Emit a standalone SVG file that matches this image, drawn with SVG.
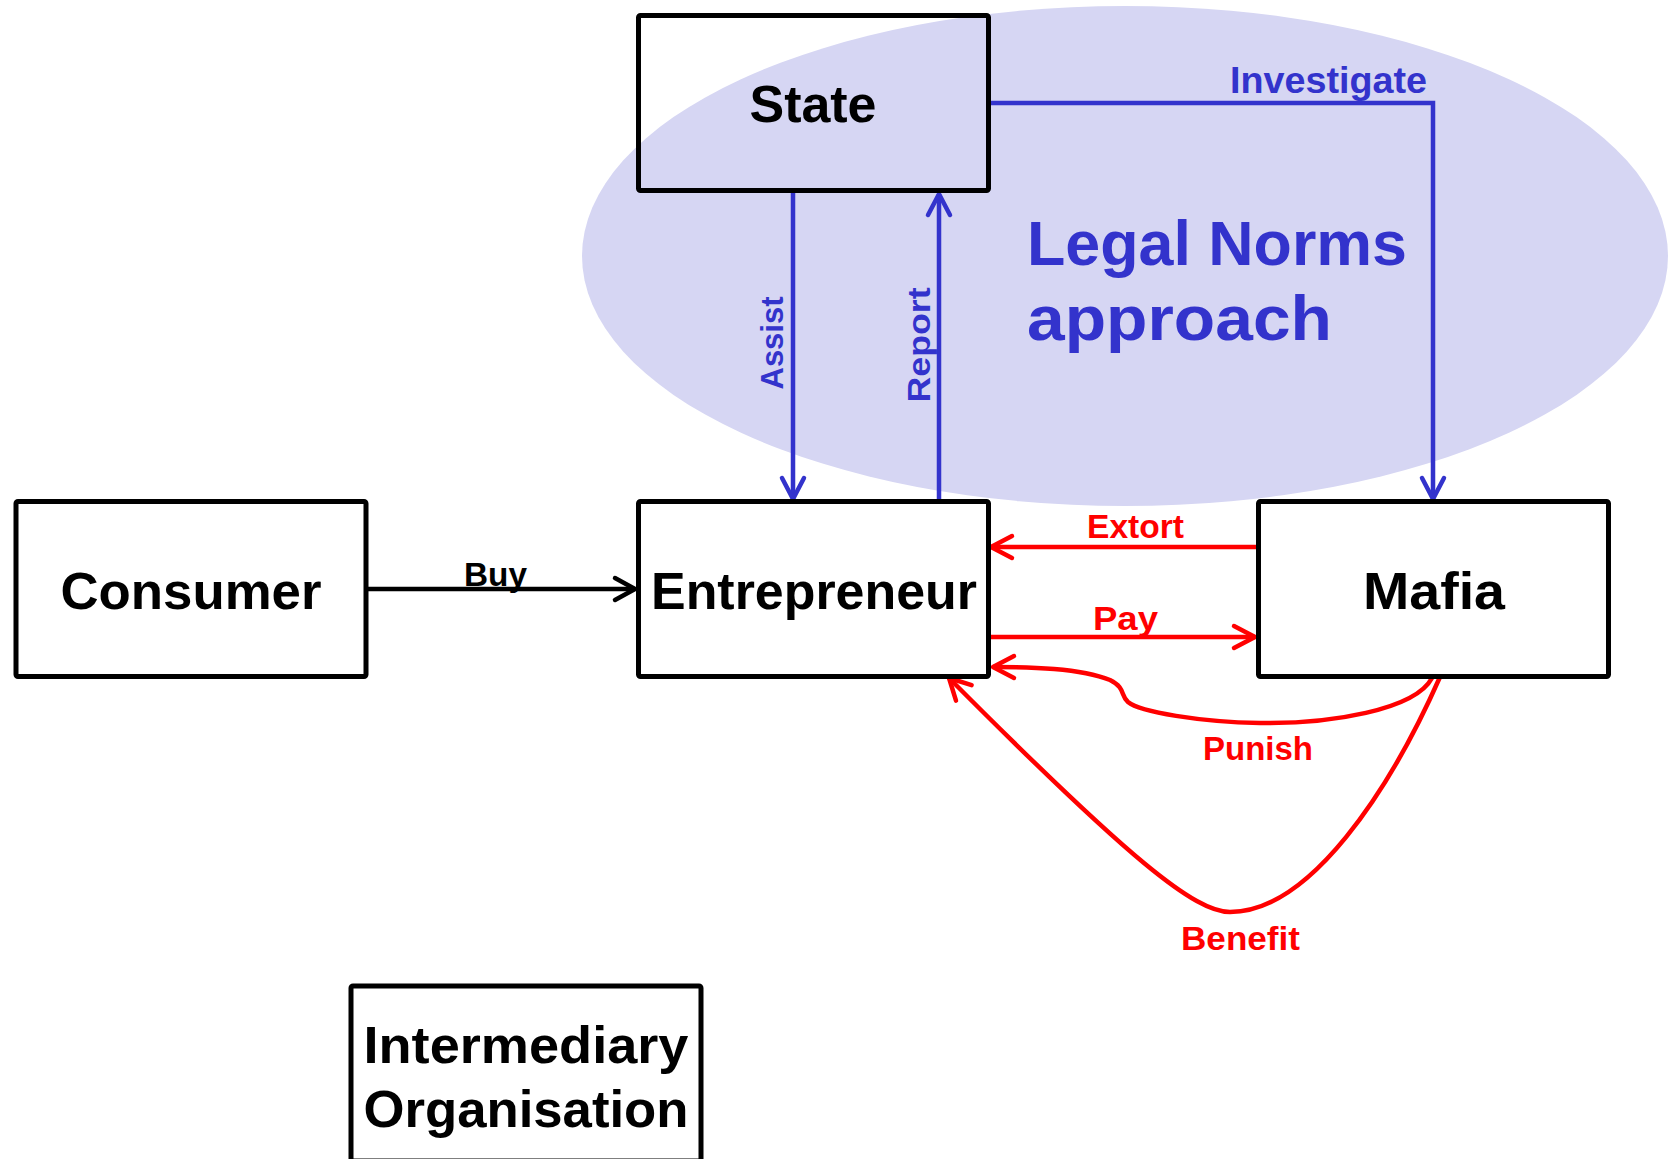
<svg xmlns="http://www.w3.org/2000/svg" width="1668" height="1159" viewBox="0 0 1668 1159">
<style>
.box{fill:none;stroke:#000;stroke-width:5;stroke-linejoin:round}
.nt{font-family:"Liberation Sans",Arial,sans-serif;font-weight:bold;font-size:52px;fill:#000;text-anchor:middle}
.bl{fill:none;stroke:#3333cc;stroke-width:4.5}
.rd{fill:none;stroke:#ff0000;stroke-width:4.5}
.bk{fill:none;stroke:#000;stroke-width:4.5}
.lb{font-family:"Liberation Sans",Arial,sans-serif;font-weight:bold;font-size:34px}
.lbb{fill:#3333cc}
.lbr{fill:#ff0000}
</style>
<defs>
<marker id="mb" markerUnits="userSpaceOnUse" viewBox="-26 -16 30 32" refX="0" refY="0" markerWidth="30" markerHeight="32" orient="auto" overflow="visible"><path d="M-21,-11 L0,0 L-21,11" fill="none" stroke="#3333cc" stroke-width="4.5" stroke-linecap="round" stroke-linejoin="round"/></marker>
<marker id="mr" markerUnits="userSpaceOnUse" viewBox="-26 -16 30 32" refX="0" refY="0" markerWidth="30" markerHeight="32" orient="auto" overflow="visible"><path d="M-21,-11 L0,0 L-21,11" fill="none" stroke="#ff0000" stroke-width="4.5" stroke-linecap="round" stroke-linejoin="round"/></marker>
<marker id="mk" markerUnits="userSpaceOnUse" viewBox="-26 -16 30 32" refX="0" refY="0" markerWidth="30" markerHeight="32" orient="auto" overflow="visible"><path d="M-20,-11 L0,0 L-20,11" fill="none" stroke="#000" stroke-width="4.5" stroke-linecap="round" stroke-linejoin="round"/></marker>
</defs>
<rect width="1668" height="1159" fill="#fff"/>
<g id="legal-norms-approach">
<ellipse cx="1125" cy="256" rx="543" ry="250" fill="#d6d6f3"/>
<text class="lb lbb" style="font-size:63px" x="1027" y="265" textLength="380" lengthAdjust="spacingAndGlyphs">Legal Norms</text>
<text class="lb lbb" style="font-size:63px" x="1027" y="340" textLength="305" lengthAdjust="spacingAndGlyphs">approach</text>
</g>
<g id="connectors">
<line class="bk" x1="366" y1="589" x2="635" y2="589" marker-end="url(#mk)"/>
<text class="lb" fill="#000" x="464" y="586" textLength="63" lengthAdjust="spacingAndGlyphs">Buy</text>
<line class="bl" x1="793" y1="193" x2="793" y2="499" marker-end="url(#mb)"/>
<text class="lb lbb" style="font-size:32px" transform="translate(783,343) rotate(-90)" text-anchor="middle" textLength="93" lengthAdjust="spacingAndGlyphs">Assist</text>
<line class="bl" x1="939" y1="499" x2="939" y2="194" marker-end="url(#mb)"/>
<text class="lb lbb" style="font-size:32px" transform="translate(930,345) rotate(-90)" text-anchor="middle" textLength="115" lengthAdjust="spacingAndGlyphs">Report</text>
<polyline class="bl" points="991,103 1433,103 1433,499" marker-end="url(#mb)" stroke-linejoin="miter"/>
<text class="lb lbb" style="font-size:37px" x="1230" y="93" textLength="197" lengthAdjust="spacingAndGlyphs">Investigate</text>
<line class="rd" x1="1256" y1="547" x2="991" y2="547" marker-end="url(#mr)"/>
<text class="lb lbr" x="1087" y="538" textLength="97" lengthAdjust="spacingAndGlyphs">Extort</text>
<line class="rd" x1="990" y1="637" x2="1255" y2="637" marker-end="url(#mr)"/>
<text class="lb lbr" x="1093" y="630" textLength="65" lengthAdjust="spacingAndGlyphs">Pay</text>
<path class="rd" d="M1432,678 C1415,710 1330,724 1260,723 C1200,722 1140,712 1128,702 C1120,695 1126,688 1110,680 C1080,668 1030,667 993,667" marker-end="url(#mr)"/>
<text class="lb lbr" x="1203" y="760" textLength="110" lengthAdjust="spacingAndGlyphs">Punish</text>
<path class="rd" d="M1440,677 C1390,790 1310,912 1230,912 C1195,912 1130,860 949,678" marker-end="url(#mr)"/>
<text class="lb lbr" x="1181" y="950" textLength="119" lengthAdjust="spacingAndGlyphs">Benefit</text>
</g>
<g id="state">
<rect class="box" x="638.5" y="15.5" width="350" height="175" rx="2"/>
<text class="nt" x="813" y="122" textLength="127" lengthAdjust="spacingAndGlyphs">State</text>
</g>
<g id="consumer">
<rect class="box" x="16" y="501.5" width="350" height="175" rx="2"/>
<text class="nt" x="191" y="609" textLength="261" lengthAdjust="spacingAndGlyphs">Consumer</text>
</g>
<g id="entrepreneur">
<rect class="box" x="638.5" y="501.5" width="350" height="175" rx="2"/>
<text class="nt" x="814" y="609" textLength="326" lengthAdjust="spacingAndGlyphs">Entrepreneur</text>
</g>
<g id="mafia">
<rect class="box" x="1258.5" y="501.5" width="350" height="175" rx="2"/>
<text class="nt" x="1434" y="609" textLength="142" lengthAdjust="spacingAndGlyphs">Mafia</text>
</g>
<g id="intermediary-organisation">
<rect class="box" x="351" y="986" width="350" height="175" rx="2"/>
<text class="nt" x="526" y="1063" textLength="325" lengthAdjust="spacingAndGlyphs">Intermediary</text>
<text class="nt" x="526" y="1127" textLength="325" lengthAdjust="spacingAndGlyphs">Organisation</text>
</g>
</svg>
